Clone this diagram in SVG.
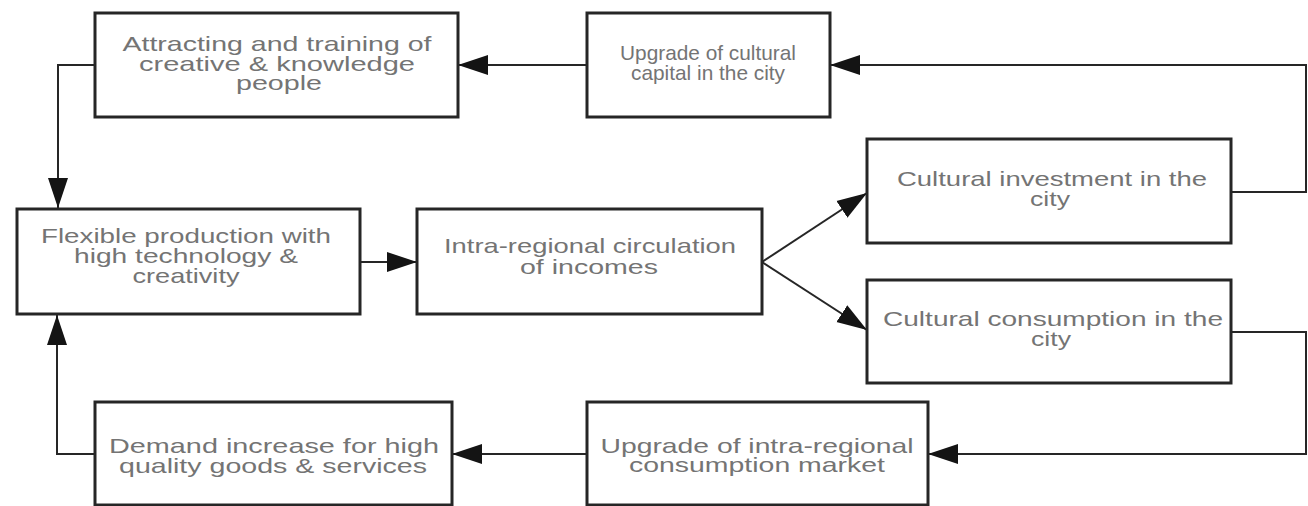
<svg xmlns="http://www.w3.org/2000/svg" width="1308" height="506" viewBox="0 0 1308 506">
  <style>
    .box { fill: #ffffff; stroke: #262626; stroke-width: 3; }
    .lbl { font-family: "Liberation Sans", Arial, sans-serif; font-size: 21px; fill: #747474; text-anchor: middle; }
    .wire { fill: none; stroke: #262626; stroke-width: 2; }
  </style>
  <defs>
    <marker id="head" markerUnits="userSpaceOnUse" markerWidth="30" markerHeight="22" viewBox="0 0 27 18" refX="27" refY="9" orient="auto">
      <path d="M0,0 L27,9 L0,18 Z" fill="#141414"/>
    </marker>
  </defs>
  <rect width="1308" height="506" fill="#ffffff"/>

  <g id="connectors">
    <path class="wire" d="M587,65 H458" marker-end="url(#head)"/>
    <path class="wire" d="M1231,192 H1306 V65 H830" marker-end="url(#head)"/>
    <path class="wire" d="M95,65 H58 V208" marker-end="url(#head)"/>
    <path class="wire" d="M360,262 H417" marker-end="url(#head)"/>
    <path class="wire" d="M762,262 L867,193" marker-end="url(#head)"/>
    <path class="wire" d="M762,262 L867,330" marker-end="url(#head)"/>
    <path class="wire" d="M1231,332 H1306 V454 H928" marker-end="url(#head)"/>
    <path class="wire" d="M587,454 H452" marker-end="url(#head)"/>
    <path class="wire" d="M95,454 H57 V315" marker-end="url(#head)"/>
  </g>

  <g id="attracting">
    <rect class="box" x="95" y="13" width="363" height="104"/>
    <text class="lbl" x="277" y="51" textLength="309" lengthAdjust="spacingAndGlyphs">Attracting and training of</text>
    <text class="lbl" x="277" y="71" textLength="276" lengthAdjust="spacingAndGlyphs">creative &amp; knowledge</text>
    <text class="lbl" x="279" y="90" textLength="86" lengthAdjust="spacingAndGlyphs">people</text>
  </g>

  <g id="cultural-capital">
    <rect class="box" x="587" y="13" width="243" height="104"/>
    <text class="lbl" x="708" y="60" textLength="176" lengthAdjust="spacingAndGlyphs">Upgrade of cultural</text>
    <text class="lbl" x="708" y="80" textLength="154" lengthAdjust="spacingAndGlyphs">capital in the city</text>
  </g>

  <g id="cultural-investment">
    <rect class="box" x="867" y="139" width="364" height="104"/>
    <text class="lbl" x="1052" y="186" textLength="310" lengthAdjust="spacingAndGlyphs">Cultural investment in the</text>
    <text class="lbl" x="1050" y="206" textLength="40" lengthAdjust="spacingAndGlyphs">city</text>
  </g>

  <g id="flexible-production">
    <rect class="box" x="17" y="209" width="343" height="105"/>
    <text class="lbl" x="186" y="243" textLength="290" lengthAdjust="spacingAndGlyphs">Flexible production with</text>
    <text class="lbl" x="186" y="263" textLength="224" lengthAdjust="spacingAndGlyphs">high technology &amp;</text>
    <text class="lbl" x="186" y="283" textLength="107" lengthAdjust="spacingAndGlyphs">creativity</text>
  </g>

  <g id="income-circulation">
    <rect class="box" x="417" y="209" width="345" height="105"/>
    <text class="lbl" x="590" y="253" textLength="292" lengthAdjust="spacingAndGlyphs">Intra-regional circulation</text>
    <text class="lbl" x="589" y="274" textLength="138" lengthAdjust="spacingAndGlyphs">of incomes</text>
  </g>

  <g id="cultural-consumption">
    <rect class="box" x="867" y="280" width="364" height="103"/>
    <text class="lbl" x="1053" y="326" textLength="340" lengthAdjust="spacingAndGlyphs">Cultural consumption in the</text>
    <text class="lbl" x="1051" y="346" textLength="40" lengthAdjust="spacingAndGlyphs">city</text>
  </g>

  <g id="consumption-market">
    <rect class="box" x="587" y="402" width="341" height="103"/>
    <text class="lbl" x="757" y="453" textLength="313" lengthAdjust="spacingAndGlyphs">Upgrade of intra-regional</text>
    <text class="lbl" x="757" y="472" textLength="256" lengthAdjust="spacingAndGlyphs">consumption market</text>
  </g>

  <g id="demand-increase">
    <rect class="box" x="95" y="402" width="357" height="103"/>
    <text class="lbl" x="274" y="453" textLength="330" lengthAdjust="spacingAndGlyphs">Demand increase for high</text>
    <text class="lbl" x="273" y="473" textLength="308" lengthAdjust="spacingAndGlyphs">quality goods &amp; services</text>
  </g>
</svg>
